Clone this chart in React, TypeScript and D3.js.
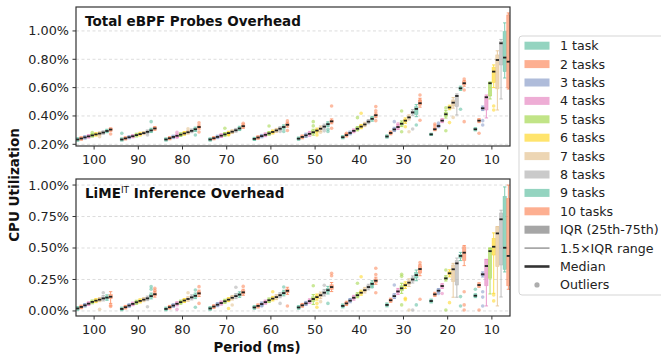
import React from 'react';
import * as d3 from 'd3';

const periods = [100, 90, 80, 70, 60, 50, 40, 30, 20, 10];
const taskLabels = ['1 task', '2 tasks', '3 tasks', '4 tasks', '5 tasks', '6 tasks', '7 tasks', '8 tasks', '9 tasks', '10 tasks'];
const taskColors = ['#66c2a5', '#fc8d62', '#8da0cb', '#e78ac3', '#a6d854', '#ffd92f', '#e5c494', '#b3b3b3', '#66c2a5', '#fc8d62'];

const ebpfTicks = [0.2, 0.4, 0.6, 0.8, 1.0];
const limeTicks = [0, 0.25, 0.5, 0.75, 1.0];

// ---- Total eBPF Probes Overhead (%), rows = period, cols = tasks ----
const ebpfMedian = [
  [0.234, 0.241, 0.249, 0.256, 0.263, 0.270, 0.276, 0.283, 0.294, 0.304],
  [0.234, 0.242, 0.250, 0.257, 0.265, 0.272, 0.279, 0.288, 0.298, 0.312],
  [0.234, 0.243, 0.252, 0.260, 0.268, 0.277, 0.285, 0.295, 0.306, 0.322],
  [0.234, 0.243, 0.252, 0.261, 0.270, 0.279, 0.289, 0.299, 0.312, 0.328],
  [0.238, 0.248, 0.258, 0.267, 0.277, 0.287, 0.298, 0.310, 0.322, 0.338],
  [0.240, 0.252, 0.263, 0.274, 0.285, 0.297, 0.310, 0.325, 0.342, 0.362],
  [0.250, 0.265, 0.280, 0.295, 0.310, 0.325, 0.340, 0.360, 0.380, 0.405],
  [0.255, 0.280, 0.305, 0.322, 0.345, 0.367, 0.390, 0.425, 0.450, 0.490],
  [0.270, 0.306, 0.329, 0.367, 0.412, 0.460, 0.494, 0.541, 0.595, 0.631],
  [0.306, 0.367, 0.454, 0.532, 0.631, 0.713, 0.795, 0.913, 0.812, 0.783],
];
const ebpfQ1 = [
  [0.227, 0.234, 0.242, 0.249, 0.256, 0.263, 0.269, 0.276, 0.287, 0.297],
  [0.228, 0.236, 0.244, 0.251, 0.258, 0.265, 0.273, 0.281, 0.290, 0.305],
  [0.228, 0.237, 0.245, 0.253, 0.261, 0.270, 0.278, 0.288, 0.298, 0.314],
  [0.228, 0.237, 0.245, 0.254, 0.263, 0.272, 0.282, 0.292, 0.304, 0.320],
  [0.232, 0.241, 0.251, 0.260, 0.270, 0.279, 0.290, 0.302, 0.314, 0.329],
  [0.234, 0.245, 0.255, 0.265, 0.274, 0.288, 0.300, 0.316, 0.333, 0.353],
  [0.244, 0.258, 0.273, 0.288, 0.302, 0.317, 0.332, 0.352, 0.371, 0.396],
  [0.249, 0.273, 0.297, 0.313, 0.334, 0.357, 0.380, 0.415, 0.410, 0.476],
  [0.266, 0.301, 0.323, 0.360, 0.397, 0.452, 0.470, 0.466, 0.588, 0.620],
  [0.300, 0.360, 0.446, 0.442, 0.541, 0.635, 0.591, 0.760, 0.713, 0.598],
];
const ebpfQ3 = [
  [0.241, 0.248, 0.256, 0.263, 0.270, 0.277, 0.283, 0.290, 0.301, 0.311],
  [0.240, 0.248, 0.256, 0.263, 0.272, 0.279, 0.285, 0.295, 0.306, 0.319],
  [0.240, 0.249, 0.259, 0.267, 0.275, 0.284, 0.292, 0.302, 0.314, 0.330],
  [0.240, 0.249, 0.259, 0.268, 0.277, 0.286, 0.296, 0.306, 0.320, 0.336],
  [0.244, 0.255, 0.265, 0.274, 0.284, 0.295, 0.306, 0.318, 0.330, 0.347],
  [0.246, 0.259, 0.271, 0.283, 0.296, 0.306, 0.320, 0.334, 0.351, 0.371],
  [0.256, 0.272, 0.287, 0.302, 0.318, 0.333, 0.348, 0.368, 0.389, 0.414],
  [0.261, 0.287, 0.313, 0.331, 0.356, 0.377, 0.400, 0.435, 0.465, 0.510],
  [0.274, 0.311, 0.335, 0.374, 0.427, 0.468, 0.513, 0.548, 0.602, 0.642],
  [0.312, 0.374, 0.462, 0.541, 0.635, 0.744, 0.831, 0.925, 0.995, 1.113],
];
const ebpfLo = [
  [0.222, 0.229, 0.237, 0.244, 0.251, 0.258, 0.264, 0.271, 0.282, 0.292],
  [0.223, 0.231, 0.239, 0.246, 0.252, 0.259, 0.268, 0.275, 0.283, 0.299],
  [0.223, 0.232, 0.240, 0.247, 0.255, 0.264, 0.272, 0.282, 0.291, 0.307],
  [0.223, 0.232, 0.240, 0.248, 0.257, 0.266, 0.276, 0.286, 0.297, 0.313],
  [0.227, 0.236, 0.246, 0.254, 0.264, 0.273, 0.284, 0.296, 0.307, 0.321],
  [0.229, 0.239, 0.248, 0.257, 0.264, 0.280, 0.291, 0.308, 0.325, 0.345],
  [0.239, 0.252, 0.267, 0.282, 0.295, 0.310, 0.325, 0.345, 0.363, 0.388],
  [0.244, 0.267, 0.290, 0.305, 0.325, 0.348, 0.372, 0.405, 0.395, 0.462],
  [0.262, 0.296, 0.317, 0.353, 0.385, 0.444, 0.455, 0.407, 0.580, 0.610],
  [0.295, 0.353, 0.438, 0.386, 0.520, 0.600, 0.442, 0.520, 0.668, 0.590],
];
const ebpfHi = [
  [0.246, 0.253, 0.261, 0.268, 0.275, 0.282, 0.288, 0.295, 0.306, 0.316],
  [0.245, 0.253, 0.261, 0.268, 0.278, 0.285, 0.290, 0.301, 0.313, 0.325],
  [0.245, 0.254, 0.264, 0.273, 0.281, 0.290, 0.298, 0.308, 0.321, 0.337],
  [0.245, 0.254, 0.264, 0.274, 0.283, 0.292, 0.302, 0.312, 0.327, 0.343],
  [0.249, 0.260, 0.270, 0.280, 0.290, 0.301, 0.312, 0.324, 0.337, 0.355],
  [0.251, 0.265, 0.278, 0.291, 0.306, 0.314, 0.329, 0.342, 0.359, 0.379],
  [0.261, 0.278, 0.293, 0.308, 0.325, 0.340, 0.355, 0.375, 0.397, 0.422],
  [0.266, 0.293, 0.320, 0.339, 0.365, 0.386, 0.408, 0.445, 0.480, 0.525],
  [0.278, 0.316, 0.341, 0.381, 0.440, 0.476, 0.530, 0.556, 0.610, 0.650],
  [0.317, 0.381, 0.470, 0.548, 0.640, 0.760, 0.860, 0.940, 1.057, 1.127],
];
// [period index, task index, value]
const ebpfOutliers: [number, number, number][] = [
  [0, 4, 0.283], [0, 6, 0.254], [0, 9, 0.273],
  [1, 0, 0.278], [1, 7, 0.266], [1, 8, 0.36],
  [2, 3, 0.25], [2, 3, 0.285], [2, 8, 0.266], [2, 9, 0.352], [2, 9, 0.287], [2, 6, 0.31],
  [3, 4, 0.313], [3, 5, 0.266], [3, 5, 0.272], [3, 6, 0.285], [3, 9, 0.348],
  [4, 4, 0.329], [4, 7, 0.29], [4, 8, 0.29], [4, 9, 0.365], [4, 9, 0.297],
  [5, 4, 0.36], [5, 4, 0.33], [5, 5, 0.266], [5, 6, 0.285], [5, 7, 0.295], [5, 8, 0.306], [5, 8, 0.29], [5, 9, 0.47], [5, 9, 0.313],
  [6, 1, 0.278], [6, 4, 0.388], [6, 5, 0.419], [6, 9, 0.466], [6, 9, 0.437], [6, 9, 0.367],
  [7, 2, 0.36], [7, 3, 0.345], [7, 4, 0.435], [7, 4, 0.289], [7, 5, 0.324], [7, 6, 0.289], [7, 7, 0.308], [7, 8, 0.336], [7, 9, 0.548], [7, 9, 0.513], [7, 9, 0.37],
  [8, 1, 0.343], [8, 1, 0.33], [8, 2, 0.35], [8, 4, 0.458], [8, 4, 0.296], [8, 5, 0.353], [8, 6, 0.39], [8, 8, 0.447], [8, 9, 0.661], [8, 9, 0.583], [8, 9, 0.36],
  [9, 1, 0.278], [9, 2, 0.367], [9, 2, 0.336], [9, 5, 0.47], [9, 5, 0.442],
];

// ---- LiME-IT Inference Overhead (%) ----
const limeMedian = [
  [0.020, 0.032, 0.045, 0.058, 0.072, 0.082, 0.090, 0.100, 0.106, 0.113],
  [0.016, 0.030, 0.043, 0.056, 0.069, 0.080, 0.090, 0.100, 0.118, 0.133],
  [0.016, 0.030, 0.043, 0.057, 0.070, 0.083, 0.095, 0.108, 0.120, 0.140],
  [0.020, 0.035, 0.050, 0.063, 0.077, 0.090, 0.105, 0.118, 0.130, 0.148],
  [0.028, 0.040, 0.055, 0.070, 0.085, 0.098, 0.110, 0.125, 0.142, 0.160],
  [0.028, 0.045, 0.060, 0.078, 0.095, 0.110, 0.125, 0.145, 0.165, 0.190],
  [0.040, 0.060, 0.082, 0.105, 0.125, 0.145, 0.165, 0.190, 0.215, 0.240],
  [0.048, 0.085, 0.118, 0.155, 0.180, 0.205, 0.225, 0.250, 0.285, 0.333],
  [0.079, 0.132, 0.161, 0.198, 0.259, 0.299, 0.331, 0.378, 0.437, 0.463],
  [0.121, 0.206, 0.291, 0.357, 0.475, 0.510, 0.616, 0.728, 0.502, 0.437],
];
const limeQ1 = [
  [0.012, 0.024, 0.037, 0.050, 0.064, 0.073, 0.081, 0.089, 0.094, 0.098],
  [0.008, 0.022, 0.035, 0.048, 0.060, 0.071, 0.081, 0.090, 0.106, 0.121],
  [0.008, 0.022, 0.035, 0.048, 0.061, 0.074, 0.085, 0.097, 0.108, 0.127],
  [0.012, 0.027, 0.041, 0.054, 0.068, 0.081, 0.095, 0.107, 0.118, 0.135],
  [0.020, 0.031, 0.046, 0.061, 0.075, 0.088, 0.099, 0.114, 0.130, 0.145],
  [0.020, 0.037, 0.051, 0.068, 0.076, 0.097, 0.111, 0.131, 0.150, 0.172],
  [0.032, 0.051, 0.073, 0.095, 0.114, 0.134, 0.153, 0.178, 0.202, 0.225],
  [0.040, 0.077, 0.108, 0.142, 0.160, 0.192, 0.210, 0.236, 0.262, 0.300],
  [0.071, 0.124, 0.152, 0.188, 0.248, 0.285, 0.233, 0.206, 0.420, 0.400],
  [0.113, 0.196, 0.280, 0.200, 0.260, 0.444, 0.352, 0.365, 0.330, 0.200],
];
const limeQ3 = [
  [0.028, 0.040, 0.053, 0.066, 0.080, 0.091, 0.099, 0.112, 0.118, 0.130],
  [0.024, 0.038, 0.051, 0.064, 0.078, 0.089, 0.099, 0.110, 0.130, 0.145],
  [0.024, 0.038, 0.051, 0.066, 0.079, 0.092, 0.105, 0.119, 0.132, 0.153],
  [0.028, 0.043, 0.059, 0.072, 0.086, 0.099, 0.115, 0.129, 0.142, 0.161],
  [0.036, 0.049, 0.064, 0.079, 0.095, 0.108, 0.121, 0.136, 0.154, 0.175],
  [0.036, 0.053, 0.069, 0.088, 0.112, 0.123, 0.139, 0.159, 0.180, 0.208],
  [0.048, 0.069, 0.091, 0.115, 0.136, 0.156, 0.177, 0.202, 0.228, 0.255],
  [0.056, 0.093, 0.128, 0.168, 0.200, 0.218, 0.240, 0.264, 0.305, 0.360],
  [0.087, 0.140, 0.170, 0.208, 0.270, 0.313, 0.365, 0.400, 0.450, 0.510],
  [0.129, 0.216, 0.300, 0.410, 0.500, 0.577, 0.669, 0.778, 0.910, 0.894],
];
const limeLo = [
  [0.006, 0.018, 0.031, 0.044, 0.057, 0.066, 0.074, 0.080, 0.085, 0.060],
  [0.002, 0.016, 0.029, 0.042, 0.053, 0.064, 0.074, 0.082, 0.096, 0.110],
  [0.002, 0.016, 0.029, 0.041, 0.054, 0.067, 0.077, 0.088, 0.098, 0.115],
  [0.006, 0.021, 0.034, 0.047, 0.061, 0.074, 0.087, 0.098, 0.108, 0.124],
  [0.014, 0.024, 0.039, 0.054, 0.067, 0.080, 0.090, 0.105, 0.120, 0.132],
  [0.014, 0.030, 0.044, 0.060, 0.052, 0.086, 0.098, 0.119, 0.135, 0.154],
  [0.025, 0.043, 0.065, 0.086, 0.105, 0.125, 0.143, 0.168, 0.190, 0.212],
  [0.033, 0.069, 0.099, 0.131, 0.140, 0.179, 0.195, 0.222, 0.240, 0.280],
  [0.064, 0.116, 0.144, 0.179, 0.238, 0.271, 0.109, 0.109, 0.400, 0.360],
  [0.106, 0.188, 0.270, 0.040, 0.135, 0.140, 0.040, 0.111, 0.310, 0.172],
];
const limeHi = [
  [0.034, 0.046, 0.059, 0.072, 0.087, 0.098, 0.106, 0.122, 0.128, 0.153],
  [0.030, 0.044, 0.057, 0.070, 0.085, 0.096, 0.106, 0.118, 0.142, 0.156],
  [0.030, 0.044, 0.057, 0.073, 0.086, 0.099, 0.113, 0.128, 0.142, 0.165],
  [0.034, 0.049, 0.066, 0.079, 0.093, 0.106, 0.123, 0.138, 0.152, 0.172],
  [0.042, 0.056, 0.071, 0.086, 0.103, 0.116, 0.130, 0.145, 0.164, 0.188],
  [0.042, 0.060, 0.076, 0.096, 0.130, 0.134, 0.150, 0.171, 0.195, 0.226],
  [0.055, 0.077, 0.099, 0.124, 0.145, 0.165, 0.187, 0.212, 0.240, 0.268],
  [0.063, 0.101, 0.137, 0.179, 0.220, 0.231, 0.255, 0.278, 0.325, 0.370],
  [0.094, 0.148, 0.178, 0.217, 0.280, 0.327, 0.378, 0.420, 0.465, 0.520],
  [0.136, 0.224, 0.310, 0.410, 0.500, 0.620, 0.670, 0.800, 0.985, 1.000],
];
const limeOutliers: [number, number, number][] = [
  [0, 6, 0.013], [0, 7, 0.145], [0, 9, 0.045], [0, 9, 0.035],
  [1, 7, 0.034], [1, 8, 0.193], [1, 8, 0.172], [1, 9, 0.18], [1, 9, 0.165],
  [2, 3, 0.013], [2, 6, 0.145], [2, 8, 0.029], [2, 8, 0.167], [2, 9, 0.193], [2, 9, 0.06],
  [3, 5, 0.02], [3, 6, 0.047], [3, 7, 0.188], [3, 9, 0.195],
  [4, 2, 0.04], [4, 5, 0.153], [4, 7, 0.06], [4, 8, 0.19], [4, 9, 0.04],
  [5, 4, 0.2], [5, 5, 0.06], [5, 5, 0.029], [5, 6, 0.074], [5, 7, 0.204], [5, 8, 0.06], [5, 9, 0.299], [5, 9, 0.28],
  [6, 4, 0.22], [6, 5, 0.272], [6, 8, 0.19], [6, 9, 0.339], [6, 9, 0.29], [6, 9, 0.145],
  [7, 2, 0.206], [7, 4, 0.291], [7, 4, 0.275], [7, 4, 0.048], [7, 5, 0.1], [7, 5, 0.09], [7, 6, 0.008], [7, 7, 0.008], [7, 8, 0.048], [7, 9, 0.385], [7, 9, 0.093],
  [8, 2, 0.139], [8, 3, 0.139], [8, 4, 0.325], [8, 4, 0.008], [8, 5, 0.066], [8, 8, 0.114], [8, 8, 0.04], [8, 9, 0.153], [8, 9, 0.048], [8, 9, 0.008],
  [9, 0, 0.172], [9, 1, 0.008], [9, 2, 0.153], [9, 2, 0.11], [9, 2, 0.04], [9, 5, 0.127], [9, 5, 0.08],
];

const FONT = 'DejaVu Sans, sans-serif';
const LEFT = 76;
const RIGHT = 510;
const TICK_FS = 12.8;
const LEGEND_FS = 12.6;

type PanelProps = {
  top: number; bottom: number; domain: [number, number]; ticks: number[];
  med: number[][]; q1: number[][]; q3: number[][]; lo: number[][]; hi: number[][];
  outliers: [number, number, number][]; title: React.ReactNode; fmt: (v: number) => string;
};

function Panel(p: PanelProps) {
  const x = d3.scaleLinear().domain([-0.41, 9.41]).range([LEFT, RIGHT]);
  const y = d3.scaleLinear().domain(p.domain).range([p.bottom, p.top]);
  const step = 0.083;
  const bw = x(0.075) - x(0);
  const cx = (i: number, j: number) => x(i + (j - 4.5) * step);
  const clipId = `clip-${p.top}`;
  return (
    <g>
      <defs>
        <clipPath id={clipId}>
          <rect x={LEFT} y={p.top} width={RIGHT - LEFT} height={p.bottom - p.top} />
        </clipPath>
      </defs>
      {p.ticks.map((t) => (
        <line key={'g' + t} x1={LEFT} x2={RIGHT} y1={y(t)} y2={y(t)} stroke="#b8b8b8" strokeOpacity={0.6} strokeWidth={0.8} strokeDasharray="3,2.5" />
      ))}
      <g clipPath={`url(#${clipId})`}>
        {p.med.map((row, i) => row.map((m, j) => {
          const c = taskColors[j];
          const xc = cx(i, j);
          return (
            <g key={`b${i}-${j}`}>
              <line x1={xc} x2={xc} y1={y(p.lo[i][j])} y2={y(p.q1[i][j])} stroke={c} strokeOpacity={0.85} strokeWidth={1} />
              <line x1={xc} x2={xc} y1={y(p.q3[i][j])} y2={y(p.hi[i][j])} stroke={c} strokeOpacity={0.85} strokeWidth={1} />
              <line x1={xc - bw / 2} x2={xc + bw / 2} y1={y(p.lo[i][j])} y2={y(p.lo[i][j])} stroke={c} strokeOpacity={0.85} strokeWidth={1} />
              <line x1={xc - bw / 2} x2={xc + bw / 2} y1={y(p.hi[i][j])} y2={y(p.hi[i][j])} stroke={c} strokeOpacity={0.85} strokeWidth={1} />
              <rect x={xc - bw / 2} y={y(p.q3[i][j])} width={bw} height={Math.max(0.5, y(p.q1[i][j]) - y(p.q3[i][j]))} fill={c} fillOpacity={0.7} stroke={c} strokeOpacity={0.7} strokeWidth={0.6} />
            </g>
          );
        }))}
        {p.outliers.map(([i, j, v], k) => (
          <circle key={'o' + k} cx={cx(i, j)} cy={y(v)} r={1.8} fill={taskColors[j]} fillOpacity={0.6} />
        ))}
        {p.med.map((row, i) => row.map((m, j) => {
          const xc = cx(i, j);
          return <line key={`m${i}-${j}`} x1={xc - bw / 2} x2={xc + bw / 2} y1={y(m)} y2={y(m)} stroke="#222" strokeWidth={1.8} />;
        }))}
      </g>
      <rect x={LEFT} y={p.top} width={RIGHT - LEFT} height={p.bottom - p.top} fill="none" stroke="#333" strokeWidth={1.2} />
      {p.ticks.map((t) => (
        <g key={'t' + t}>
          <line x1={LEFT - 3.5} x2={LEFT} y1={y(t)} y2={y(t)} stroke="#333" strokeWidth={1} />
          <text x={LEFT - 7} y={y(t)} dy="0.35em" textAnchor="end" fontSize={TICK_FS} fontFamily={FONT} fill="#222">{p.fmt(t)}</text>
        </g>
      ))}
      {periods.map((per, i) => (
        <g key={'x' + per}>
          <line x1={x(i)} x2={x(i)} y1={p.bottom} y2={p.bottom + 3.5} stroke="#333" strokeWidth={1} />
          <text x={x(i)} y={p.bottom + 17.5} textAnchor="middle" fontSize={TICK_FS} fontFamily={FONT} fill="#222">{per}</text>
        </g>
      ))}
      <g>{p.title}</g>
    </g>
  );
}

function Legend() {
  const x0 = 519, y0 = 36, rowH = 18.4, first = 45.7;
  const rows = [...taskLabels, 'IQR (25th-75th)', '1.5×IQR range', 'Median', 'Outliers'];
  return (
    <g>
      <rect x={x0} y={y0} width={150} height={259} rx={3} fill="white" fillOpacity={0.85} stroke="#d0d0d0" strokeWidth={0.9} />
      {rows.map((lab, k) => {
        const cy = first + k * rowH;
        let mark: React.ReactNode;
        if (k < 10) mark = <rect x={524.5} y={cy - 4} width={25} height={8} fill={taskColors[k]} fillOpacity={0.7} />;
        else if (k === 10) mark = <rect x={524.5} y={cy - 4} width={25} height={8} fill="#808080" fillOpacity={0.7} />;
        else if (k === 11) mark = <line x1={524.5} x2={549.5} y1={cy} y2={cy} stroke="#999" strokeWidth={1.5} />;
        else if (k === 12) mark = <line x1={524.5} x2={549.5} y1={cy} y2={cy} stroke="#333" strokeWidth={2.6} />;
        else mark = <circle cx={537} cy={cy} r={2.6} fill="#999" fillOpacity={0.8} />;
        return (
          <g key={lab}>
            {mark}
            <text x={560} y={cy} dy="0.35em" fontSize={LEGEND_FS} fontFamily={FONT} fill="#222">{lab}</text>
          </g>
        );
      })}
    </g>
  );
}

export default function App() {
  const pct = (v: number) => `${v.toFixed(2)}%`;
  return (
    <svg width={661} height={354} style={{ position: 'absolute', left: 0, top: 0, background: 'white' }}>
      <Panel top={7} bottom={146} domain={[0.188, 1.169]} ticks={ebpfTicks}
        med={ebpfMedian} q1={ebpfQ1} q3={ebpfQ3} lo={ebpfLo} hi={ebpfHi} outliers={ebpfOutliers} fmt={pct}
        title={<text x={85} y={26} fontSize={13.5} fontWeight="bold" fontFamily={FONT} fill="#111">Total eBPF Probes Overhead</text>} />
      <Panel top={179} bottom={316} domain={[-0.04, 1.048]} ticks={limeTicks}
        med={limeMedian} q1={limeQ1} q3={limeQ3} lo={limeLo} hi={limeHi} outliers={limeOutliers} fmt={pct}
        title={<text x={85} y={197.5} fontSize={13.5} fontWeight="bold" fontFamily={FONT} fill="#111">LiME<tspan fontSize={9} fontWeight="normal" dy={-5}>IT</tspan><tspan dy={5}> Inference Overhead</tspan></text>} />
      <Legend />
      <text transform="translate(19,185) rotate(-90)" textAnchor="middle" fontSize={13.5} fontWeight="bold" fontFamily={FONT} fill="#111">CPU Utilization</text>
      <text x={257} y={352} textAnchor="middle" fontSize={13.3} fontWeight="bold" fontFamily={FONT} fill="#111">Period (ms)</text>
    </svg>
  );
}
